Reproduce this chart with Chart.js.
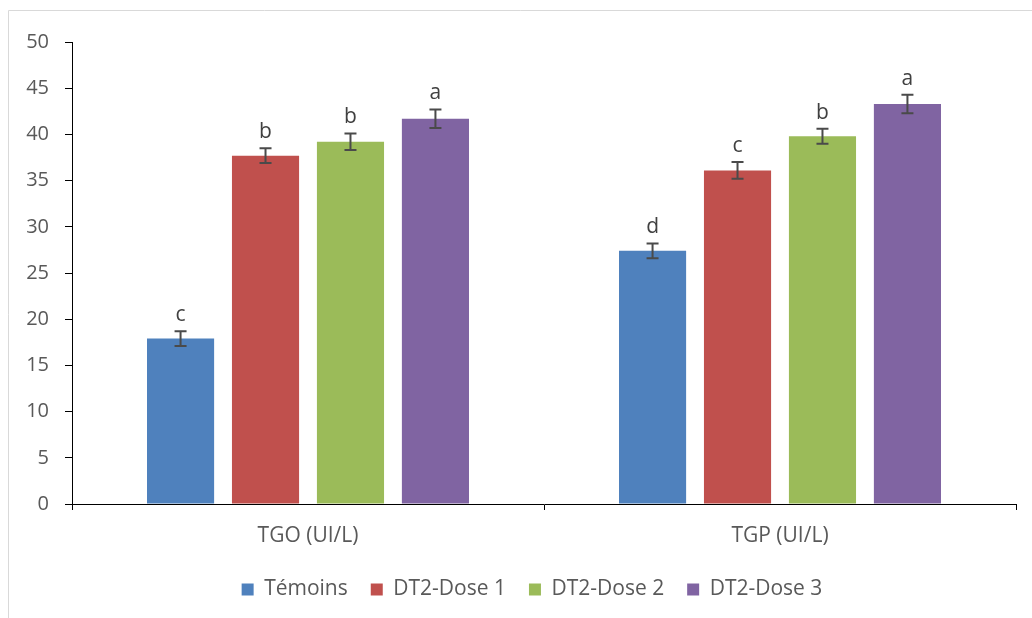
<!DOCTYPE html>
<html>
<head>
<meta charset="utf-8">
<script src="https://cdn.jsdelivr.net/npm/chart.js@4/dist/chart.umd.min.js"></script>
<style>
  html, body { margin: 0; padding: 0; background: #fff; }
  #wrap { width: 1032px; height: 618px; }
</style>
</head>
<body>
<div id="wrap"><canvas id="c" width="1032" height="618"></canvas></div>
<script>
// Enzyme activity per group (mean, standard error and significance letter)
const categories = ['TGO (UI/L)', 'TGP (UI/L)'];
const seriesNames = ['Témoins', 'DT2-Dose 1', 'DT2-Dose 2', 'DT2-Dose 3'];
const seriesColors = ['#4F81BD', '#C0504D', '#9BBB59', '#8064A2'];

const temoins = [17.9, 27.4];
const dose1 = [37.7, 36.1];
const dose2 = [39.2, 39.8];
const dose3 = [41.7, 43.3];

const temoinsErr = [0.8, 0.8];
const dose1Err = [0.8, 0.9];
const dose2Err = [0.9, 0.8];
const dose3Err = [1.0, 1.0];

const temoinsLetters = ['c', 'd'];
const dose1Letters = ['b', 'c'];
const dose2Letters = ['b', 'b'];
const dose3Letters = ['a', 'a'];

const yTicks = [0, 5, 10, 15, 20, 25, 30, 35, 40, 45, 50];

const values = [temoins, dose1, dose2, dose3];
const errors = [temoinsErr, dose1Err, dose2Err, dose3Err];
const letters = [temoinsLetters, dose1Letters, dose2Letters, dose3Letters];

const FONT = '"Open Sans", "Liberation Sans", sans-serif';
const TEXT = '#595959';

// Thin frame around the figure
const framePlugin = {
  id: 'frame',
  beforeDraw(chart) {
    const ctx = chart.ctx;
    ctx.save();
    ctx.strokeStyle = '#d9d9d9';
    ctx.lineWidth = 1;
    ctx.beginPath();
    ctx.moveTo(8.5, 618);
    ctx.lineTo(8.5, 10.5);
    ctx.lineTo(1032, 10.5);
    ctx.stroke();
    ctx.restore();
  }
};

// Place the legend row near the bottom of the figure, centred under the plot
const legendShift = {
  id: 'legendShift',
  afterLayout(chart) {
    const lg = chart.legend;
    if (!lg) return;
    const dy = 556 - lg.top;
    lg.top += dy;
    lg.bottom += dy;
    lg.left += 24;
    lg.right += 24;
  }
};

// Error bars with caps, plus the significance letter above each one
const errorBarPlugin = {
  id: 'errorBars',
  afterDatasetsDraw(chart) {
    const ctx = chart.ctx;
    const y = chart.scales.y;
    ctx.save();
    chart.data.datasets.forEach((ds, di) => {
      const meta = chart.getDatasetMeta(di);
      meta.data.forEach((bar, i) => {
        const v = values[di][i];
        const e = errors[di][i];
        const top = y.getPixelForValue(v + e);
        const bot = y.getPixelForValue(v - e);
        const x = bar.x;
        ctx.strokeStyle = '#4a4a4a';
        ctx.lineWidth = 2;
        ctx.beginPath();
        ctx.moveTo(x, top); ctx.lineTo(x, bot);
        ctx.moveTo(x - 6, top); ctx.lineTo(x + 6, top);
        ctx.moveTo(x - 6, bot); ctx.lineTo(x + 6, bot);
        ctx.stroke();
        ctx.fillStyle = '#404040';
        ctx.font = '21px ' + FONT;
        ctx.textAlign = 'center';
        ctx.textBaseline = 'alphabetic';
        ctx.fillText(letters[di][i], x, top - 10);
      });
    });
    ctx.restore();
  }
};

new Chart(document.getElementById('c'), {
  type: 'bar',
  data: {
    labels: categories,
    datasets: seriesNames.map((name, i) => ({
      label: name,
      data: values[i],
      backgroundColor: seriesColors[i],
      borderWidth: 0,
      categoryPercentage: 0.72,
      barPercentage: 0.79
    }))
  },
  options: {
    responsive: false,
    animation: false,
    layout: { padding: { top: 42, right: 16, left: 0, bottom: 0 } },
    plugins: {
      tooltip: { enabled: false },
      legend: {
        position: 'bottom',
        labels: {
          boxWidth: 12,
          boxHeight: 12,
          padding: 23,
          color: TEXT,
          font: { family: FONT, size: 21 }
        }
      }
    },
    scales: {
      x: {
        grid: { offset: true, drawOnChartArea: false, drawTicks: true, tickLength: 6, color: '#000' },
        border: { color: '#000', width: 1 },
        ticks: { color: TEXT, font: { family: FONT, size: 21 }, padding: 13 },
        afterFit(s) { s.height = 60; }
      },
      y: {
        min: 0, max: 50,
        afterBuildTicks(s) { s.ticks = yTicks.map(v => ({ value: v })); },
        grid: { drawOnChartArea: false, drawTicks: true, tickLength: 7, color: '#000' },
        border: { color: '#000', width: 1 },
        ticks: { color: TEXT, font: { family: FONT, size: 20 }, padding: 16 },
        afterFit(s) { s.width = 72; }
      }
    }
  },
  plugins: [framePlugin, legendShift, errorBarPlugin]
});
</script>
</body>
</html>
